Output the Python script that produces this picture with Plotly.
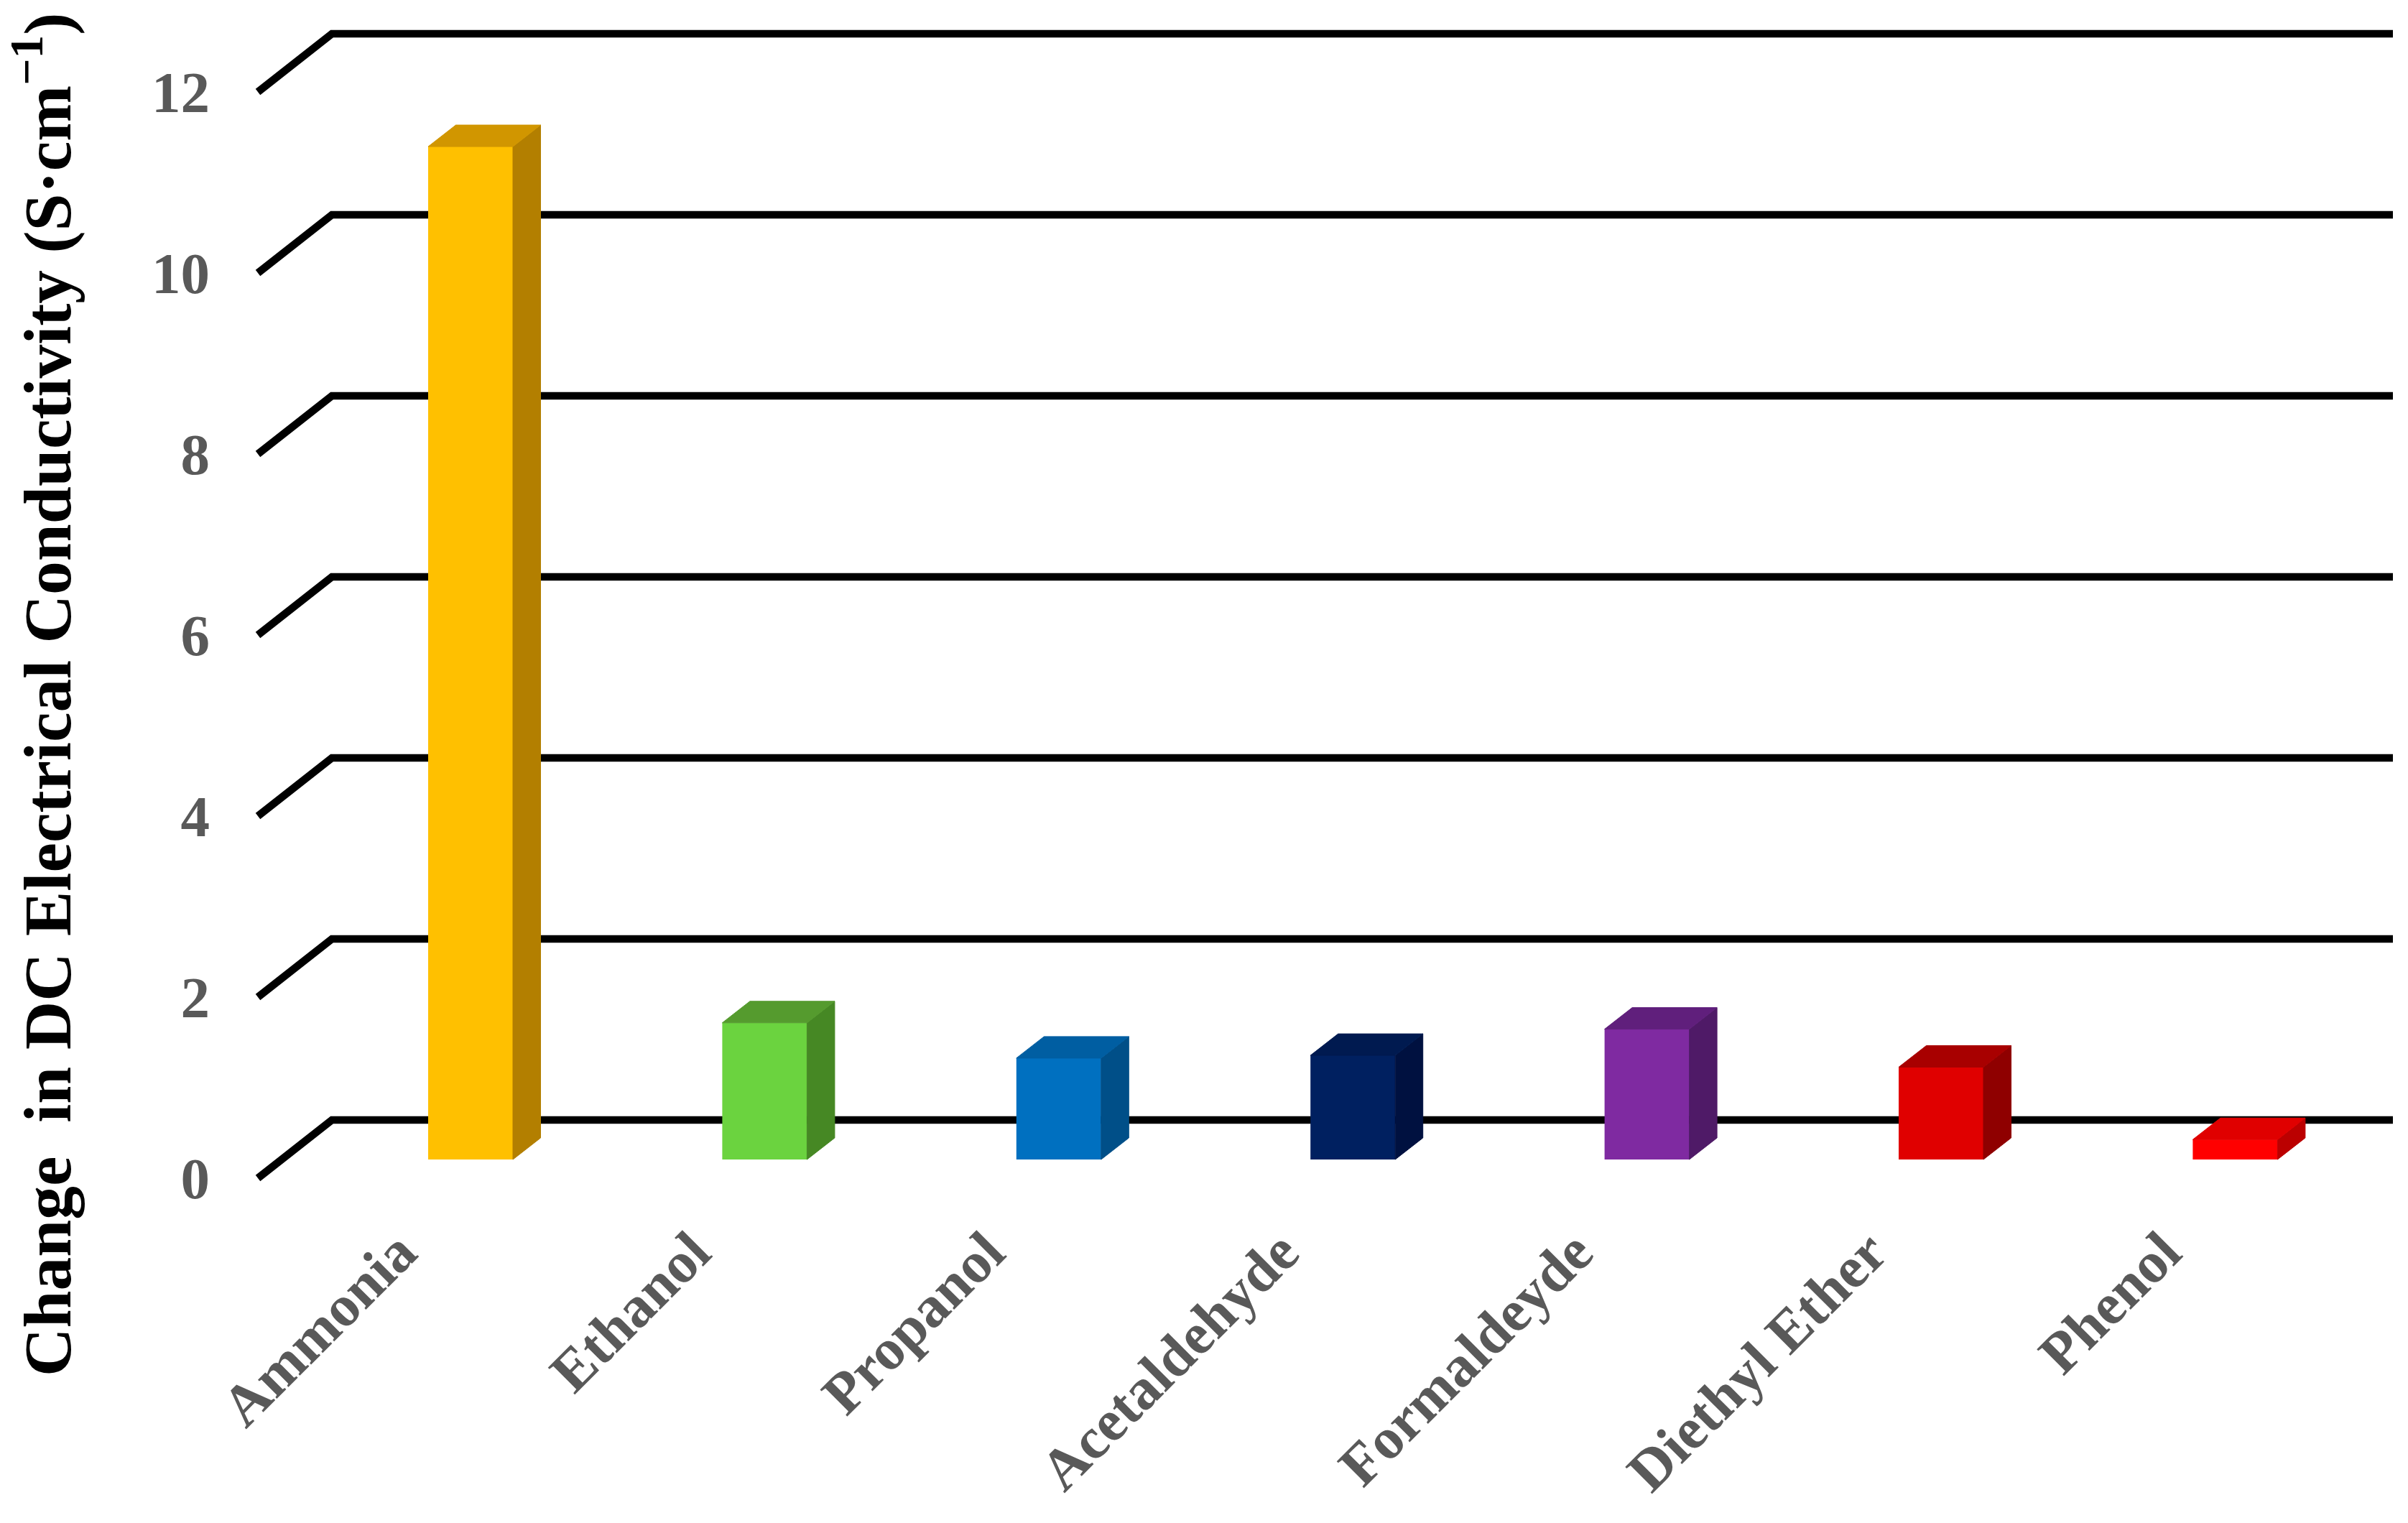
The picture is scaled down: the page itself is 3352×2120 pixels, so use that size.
import plotly.graph_objects as go

categories = ["Ammonia", "Ethanol", "Propanol", "Acetaldehyde", "Formaldeyde", "Diethyl Ether", "Phenol"]
values = [11.19, 1.51, 1.12, 1.15, 1.44, 1.02, 0.22]
front_colors = ["#FFC000", "#6BD33F", "#0070C0", "#002060", "#7F2AA1", "#E00000", "#FF0000"]
side_colors = ["#B37F00", "#468824", "#004F88", "#001140", "#4F1A67", "#8F0000", "#BB0000"]
top_colors = ["#D19600", "#559B2E", "#005EA2", "#001A50", "#601F7C", "#A80000", "#E00000"]
y_ticks = [0, 2, 4, 6, 8, 10, 12]
y_title = "Change\u00a0 in DC Electrical Conductivity (S·cm<sup>−1</sup>)"

W, H = 3352, 2120
L, R, T, B = 310, 3340, 10, 1650
PX_X, PX_Y = 409.4, 126.0
X0, Y0 = 622.5, 1640.0
x_rng = [(L - X0) / PX_X, (R - X0) / PX_X]
y_rng = [(Y0 - B) / PX_Y, (Y0 - T) / PX_Y]

wall_dx, wall_dy = 103 / PX_X, 81 / PX_Y
wall_left = (359 - X0) / PX_X
wall_right = (3331 - X0) / PX_X
bar_w = 118 / PX_X
bar_shift = 32.5 / PX_X
bar_base = 26 / PX_Y
dep_x, dep_y = 38.5 / PX_X, 30 / PX_Y

fig = go.Figure()
shapes = []
for v in y_ticks:
    path = (f"M {wall_left},{v} L {wall_left + wall_dx},{v + wall_dy} "
            f"L {wall_right},{v + wall_dy}")
    shapes.append(dict(type="path", path=path, xref="x", yref="y", layer="below",
                       line=dict(color="#000000", width=10.5)))

xs = [i + bar_shift for i in range(len(categories))]
fig.add_trace(go.Bar(x=xs, y=values, base=[bar_base] * len(values), width=bar_w,
                     marker=dict(color=front_colors, line=dict(width=0)),
                     hovertext=categories, showlegend=False))
for x, v, sc, tc in zip(xs, values, side_colors, top_colors):
    xl, xr = x - bar_w / 2, x + bar_w / 2
    top = bar_base + v
    fig.add_trace(go.Scatter(
        x=[xr, xr + dep_x, xr + dep_x, xr, xr],
        y=[bar_base, bar_base + dep_y, top + dep_y, top, bar_base],
        mode="lines", fill="toself", fillcolor=sc, line=dict(width=1, color=sc),
        hoverinfo="skip", showlegend=False))
    fig.add_trace(go.Scatter(
        x=[xl, xl + dep_x, xr + dep_x, xr, xl],
        y=[top, top + dep_y, top + dep_y, top, top],
        mode="lines", fill="toself", fillcolor=tc, line=dict(width=1, color=tc),
        hoverinfo="skip", showlegend=False))

tick_font = dict(family="Liberation Serif", size=81, color="#595959", weight="bold")
fig.update_layout(
    width=W, height=H, autosize=False, paper_bgcolor="#FFFFFF", plot_bgcolor="#FFFFFF",
    margin=dict(l=L, r=W - R, t=T, b=H - B, pad=0), showlegend=False, shapes=shapes,
    font=dict(family="Liberation Serif"),
    xaxis=dict(range=x_rng, showgrid=False, zeroline=False, showline=False, ticks="",
               tickmode="array", tickvals=list(range(len(categories))), ticktext=categories,
               tickangle=-45, tickfont=tick_font, ticklabelstandoff=28, ticklabelshift=-67),
    yaxis=dict(range=y_rng, showgrid=False, zeroline=False, showline=False, ticks="",
               tickmode="array", tickvals=y_ticks, ticktext=[str(t) for t in y_ticks],
               tickfont=tick_font, ticklabelstandoff=17),
    annotations=[dict(text=y_title, textangle=-90, xref="paper", yref="paper",
                      x=(60 - L) / (R - L), y=(B - 967) / (B - T),
                      xanchor="center", yanchor="middle", showarrow=False,
                      font=dict(family="Liberation Serif", size=93.5, color="#000000", weight="bold"))],
)
fig.write_html("out.html", post_script="document.body.style.margin='0';",
               config={"displayModeBar": False})
